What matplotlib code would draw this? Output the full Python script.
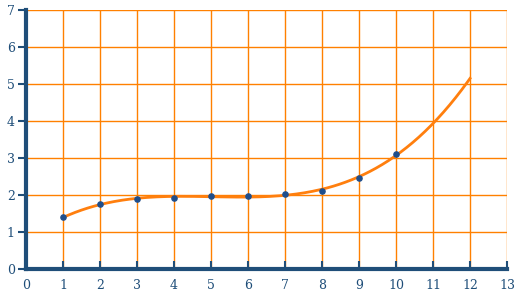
import numpy as np
import matplotlib
matplotlib.use("Agg")
import matplotlib.pyplot as plt

# data
x_pts = [1, 2, 3, 4, 5, 6, 7, 8, 9, 10]
y_pts = [1.40, 1.75, 1.88, 1.93, 1.98, 1.98, 2.02, 2.12, 2.45, 3.10]
x_ticks = list(range(0, 14))
y_ticks = list(range(0, 8))

navy = "#1f4e79"
orange = "#ff8000"

fig = plt.figure(figsize=(5.24, 3.03), dpi=100)
ax = fig.add_axes([0.0496, 0.1122, 0.918, 0.855])

# trend curve: cubic fit of the points, drawn out to x = 12
coef = np.polyfit(x_pts, y_pts, 3)
xc = np.linspace(1, 12, 200)
ax.plot(xc, np.polyval(coef, xc), color="#ff7f0e", lw=2, zorder=3)
ax.scatter(x_pts, y_pts, s=14, color="#1f4e8c", zorder=4)

ax.set_xlim(0, 13)
ax.set_ylim(0, 7)
ax.set_xticks(x_ticks)
ax.set_yticks(y_ticks)
ax.grid(True, color=orange, lw=1)
ax.set_axisbelow(True)

for s in ["top", "right"]:
    ax.spines[s].set_visible(False)
for s in ["left", "bottom"]:
    ax.spines[s].set_color(navy)
    ax.spines[s].set_linewidth(3)
    ax.spines[s].set_zorder(5)

ax.tick_params(axis="x", direction="in", length=6, width=1.5, color=navy,
               labelcolor=navy, labelsize=9, pad=7)
ax.tick_params(axis="y", direction="out", length=6, width=1.5, color=navy,
               labelcolor=navy, labelsize=9, pad=2)
for lab in ax.get_xticklabels() + ax.get_yticklabels():
    lab.set_family("DejaVu Serif")

fig.savefig("out.png", dpi=100)
